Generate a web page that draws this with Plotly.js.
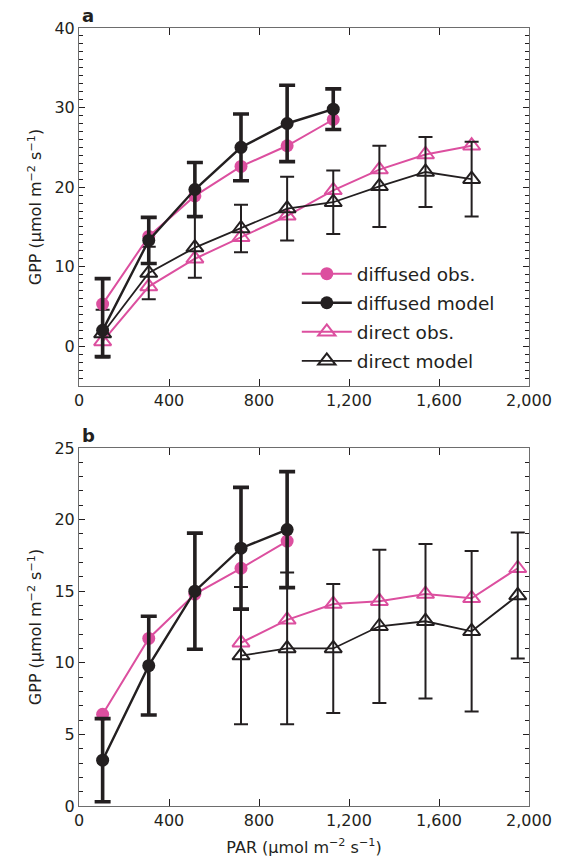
<!DOCTYPE html>
<html>
<head>
<meta charset="utf-8">
<script src="https://cdn.plot.ly/plotly-3.0.1.min.js"></script>
<style>
  html, body { margin: 0; padding: 0; background: #ffffff; }
  #chart { width: 572px; height: 861px; }
</style>
</head>
<body>
<div id="chart"></div>
<script>
// ---------- data ----------
// Panel a
const parA_diffused = [105, 310, 515, 720, 925, 1130];
const parA_direct = [105, 310, 515, 720, 925, 1130, 1335, 1540, 1745];
const a_diffusedObs = [5.3, 13.8, 18.9, 22.6, 25.2, 28.5];
const a_diffusedModel = [2.0, 13.3, 19.7, 25.0, 28.0, 29.8];
const a_diffusedModelErrPlus = [6.5, 2.9, 3.4, 4.2, 4.8, 2.55];
const a_diffusedModelErrMinus = [3.3, 2.9, 3.4, 4.2, 4.8, 2.55];
const a_directObs = [0.6, 7.5, 11.0, 13.7, 16.4, 19.6, 22.2, 24.1, 25.2];
const a_directModel = [1.6, 9.2, 12.4, 14.8, 17.3, 18.1, 20.1, 21.9, 21.0];
const a_directModelErr = [3.0, 3.3, 3.8, 3.0, 4.0, 4.0, 5.1, 4.4, 4.7];

// Panel b
const parB_diffused = [105, 310, 515, 720, 925];
const parB_direct = [720, 925, 1130, 1335, 1540, 1745, 1950];
const b_diffusedObs = [6.4, 11.7, 14.8, 16.6, 18.5];
const b_diffusedModel = [3.2, 9.8, 15.0, 18.0, 19.3];
const b_diffusedModelErr = [2.9, 3.45, 4.05, 4.25, 4.05];
const b_directObs = [11.4, 13.0, 14.1, 14.3, 14.8, 14.5, 16.6];
const b_directModel = [10.5, 11.0, 11.0, 12.55, 12.9, 12.2, 14.7];
const b_directModelErr = [4.8, 5.3, 4.5, 5.35, 5.4, 5.6, 4.4];

// Tick labels
const xTickVals = [0, 400, 800, 1200, 1600, 2000];
const xTickText = ['0', '400', '800', '1,200', '1,600', '2,000'];
const yTickValsA = [0, 10, 20, 30, 40];
const yTickValsB = [0, 5, 10, 15, 20, 25];

const seriesNames = ['diffused obs.', 'diffused model', 'direct obs.', 'direct model'];

// ---------- styles ----------
const PINK = '#dc4f9f';
const BLACK = '#231f20';
const FONT = 'DejaVu Sans, Liberation Sans, Arial, sans-serif';

function obsTrace(x, y, name, xa, ya, show, rank, isTri) {
  return {
    type: 'scatter', mode: 'lines+markers', x: x, y: y, name: name,
    xaxis: xa, yaxis: ya, showlegend: show, legendrank: rank, legendgroup: 'g' + rank,
    line: { color: PINK, width: 2 },
    marker: isTri
      ? { symbol: 'triangle-up-open', size: 15, color: PINK, line: { color: PINK, width: 2 } }
      : { symbol: 'circle', size: 13, color: PINK, line: { width: 0 } },
    cliponaxis: false
  };
}

function modelTrace(x, y, plus, minus, name, xa, ya, show, rank, isTri) {
  return {
    type: 'scatter', mode: 'lines+markers', x: x, y: y, name: name,
    xaxis: xa, yaxis: ya, showlegend: show, legendrank: rank, legendgroup: 'g' + rank,
    line: { color: BLACK, width: isTri ? 1.8 : 2.4 },
    marker: isTri
      ? { symbol: 'triangle-up-open', size: 15, color: BLACK, line: { color: BLACK, width: 2 } }
      : { symbol: 'circle', size: 13, color: BLACK, line: { width: 0 } },
    error_y: {
      type: 'data', symmetric: false, array: plus, arrayminus: minus, visible: true,
      color: BLACK, thickness: isTri ? 2 : 3.6, width: isTri ? 7 : 8
    },
    cliponaxis: false
  };
}

const traces = [
  // panel a
  obsTrace(parA_direct, a_directObs, seriesNames[2], 'x', 'y', true, 3, true),
  modelTrace(parA_direct, a_directModel, a_directModelErr, a_directModelErr, seriesNames[3], 'x', 'y', true, 4, true),
  obsTrace(parA_diffused, a_diffusedObs, seriesNames[0], 'x', 'y', true, 1, false),
  modelTrace(parA_diffused, a_diffusedModel, a_diffusedModelErrPlus, a_diffusedModelErrMinus, seriesNames[1], 'x', 'y', true, 2, false),
  // panel b
  obsTrace(parB_direct, b_directObs, seriesNames[2], 'x2', 'y2', false, 3, true),
  modelTrace(parB_direct, b_directModel, b_directModelErr, b_directModelErr, seriesNames[3], 'x2', 'y2', false, 4, true),
  obsTrace(parB_diffused, b_diffusedObs, seriesNames[0], 'x2', 'y2', false, 1, false),
  modelTrace(parB_diffused, b_diffusedModel, b_diffusedModelErr, b_diffusedModelErr, seriesNames[1], 'x2', 'y2', false, 2, false)
];

const tickFont = { family: FONT, size: 16, color: BLACK };
const titleFont = { family: FONT, size: 16, color: BLACK };

function xAxis(anchor, withTitle) {
  const ax = {
    anchor: anchor, domain: [0, 1], range: [0, 2000],
    tickmode: 'array', tickvals: xTickVals, ticktext: xTickText,
    ticks: 'inside', ticklen: 7, tickwidth: 1, tickcolor: BLACK,
    showline: true, linecolor: '#6d6d6d', linewidth: 1, mirror: 'ticks',
    showgrid: false, zeroline: false, tickfont: tickFont
  };
  if (withTitle) {
    ax.title = { text: 'PAR (µmol m<sup>−2</sup> s<sup>−1</sup>)', font: titleFont, standoff: 12 };
  }
  return ax;
}

function yAxis(anchor, domain, range, tickvals) {
  return {
    anchor: anchor, domain: domain, range: range,
    tickmode: 'array', tickvals: tickvals,
    ticks: 'inside', ticklen: 6, tickwidth: 1, tickcolor: BLACK,
    minor: { tickmode: 'linear', tick0: 0, dtick: 1, ticks: 'inside', ticklen: 4, tickwidth: 1, tickcolor: BLACK },
    showline: true, linecolor: '#6d6d6d', linewidth: 1, mirror: 'ticks',
    showgrid: false, zeroline: false, tickfont: tickFont,
    title: { text: 'GPP (µmol m<sup>−2</sup> s<sup>−1</sup>)', font: titleFont, standoff: 8 }
  };
}

const layout = {
  width: 572, height: 861,
  margin: { l: 79, r: 43, t: 28, b: 55 },
  paper_bgcolor: '#ffffff', plot_bgcolor: '#ffffff',
  font: { family: FONT, color: BLACK },
  showlegend: true,
  legend: {
    x: 0.484, y: 0.708, xanchor: 'left', yanchor: 'top',
    bgcolor: 'rgba(0,0,0,0)', borderwidth: 0,
    font: { family: FONT, size: 18.5, color: BLACK },
    itemwidth: 50, tracegroupgap: 2, traceorder: 'grouped'
  },
  xaxis: xAxis('y', false),
  yaxis: yAxis('x', [0.5398, 1], [-5, 40], yTickValsA),
  xaxis2: xAxis('y2', true),
  yaxis2: yAxis('x2', [0, 0.4602], [0, 25], yTickValsB),
  annotations: [
    { text: '<b>a</b>', xref: 'paper', yref: 'paper', x: 0.0, y: 1.0, xanchor: 'left', yanchor: 'bottom',
      showarrow: false, font: { family: FONT, size: 18, color: BLACK }, xshift: 1, yshift: 0 },
    { text: '<b>b</b>', xref: 'paper', yref: 'paper', x: 0.0, y: 0.4602, xanchor: 'left', yanchor: 'bottom',
      showarrow: false, font: { family: FONT, size: 18, color: BLACK }, xshift: 1, yshift: 0 }
  ]
};

Plotly.newPlot('chart', traces, layout, { displayModeBar: false, responsive: false });
</script>
</body>
</html>
